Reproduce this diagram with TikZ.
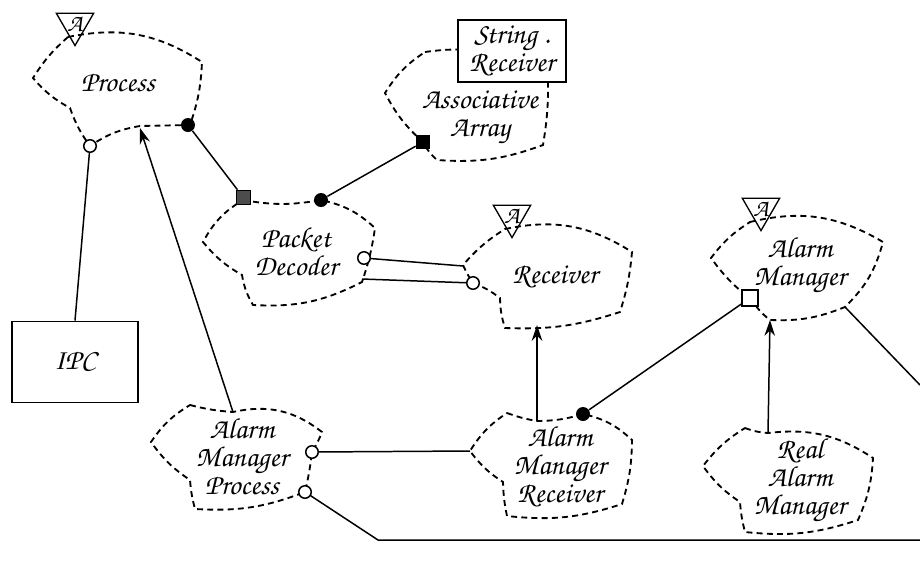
\documentclass[tikz,border=0pt]{standalone}
\usepackage{fontspec}
\newfontfamily\handfont{texgyrechorus-mediumitalic.otf}
\usepackage{tikz}
\usetikzlibrary{arrows.meta,shapes.geometric}

\begin{document}
\begin{tikzpicture}[x=0.02cm,y=-0.02cm,
    classname/.style={font=\handfont\fontsize{16.5}{16}\selectfont,align=center,inner sep=1pt},
    cloudline/.style={dash pattern=on 3.4pt off 2.4pt,line width=1.05pt},
    link/.style={line width=0.85pt},
    inherit/.style={link,-{Stealth[length=9pt,width=6pt]}},
    opendot/.style={circle,draw,line width=0.85pt,fill=white,minimum size=0.25cm,inner sep=0pt},
    fulldot/.style={circle,fill=black,minimum size=0.28cm,inner sep=0pt},
    fullsq/.style={rectangle,fill=black,minimum size=0.28cm,inner sep=0pt},
    hatchsq/.style={rectangle,draw,fill=black!70,minimum size=0.28cm,inner sep=0pt},
    opensq/.style={rectangle,draw,line width=0.85pt,fill=white,minimum size=0.32cm,inner sep=0pt},
    abstract/.style={regular polygon,regular polygon sides=3,shape border rotate=180,draw,line width=0.75pt,
      minimum size=0.86cm,inner sep=0pt,font=\handfont\fontsize{14}{14}\selectfont},
    plainbox/.style={rectangle,draw,line width=1.1pt,fill=white,classname}]
  \useasboundingbox (0,0) rectangle (920,569);

  % class clouds
  \draw[cloudline] (68,37) to[bend left=22] (202,62) to[bend left=8] (190,125) -- (140,126)
    to[bend right=12] (90,146) to[bend left=8] (70,108) to[bend left=10] (33,78) to[bend left=8] (68,37);
  \draw[cloudline] (243,200) to[bend right=10] (321,200) to[bend left=15] (375,228) to[bend left=5] (362,282)
    to[bend left=15] (253,305) to[bend left=10] (242,275) to[bend left=10] (203,242) to[bend left=15] (243,200);
  \draw[cloudline] (425,52) to[bend left=20] (548,78) to[bend left=5] (543,145) to[bend left=12] (437,160)
    to[bend left=10] (423,142) to[bend left=10] (385,93) to[bend left=12] (425,52);
  \draw[cloudline] (505,229) to[bend left=22] (632,252) to[bend left=6] (620,312) to[bend left=10] (505,328)
    to[bend left=8] (500,298) to[bend right=8] (473,283) to[bend left=5] (463,265) to[bend left=8] (505,229);
  \draw[cloudline] (750,222) to[bend left=22] (883,242) to[bend left=15] (845,307) to[bend left=12] (770,320)
    to[bend left=10] (752,300) to[bend left=8] (711,258) to[bend left=10] (750,222);
  \draw[cloudline] (745,428) to[bend right=8] (768,433) to[bend left=20] (873,458) to[bend left=10] (858,520)
    to[bend left=12] (745,532) to[bend left=5] (740,502) to[bend left=10] (703,466) to[bend left=10] (745,428);
  \draw[cloudline] (507,413) to[bend right=5] (537,421) to[bend right=8] (583,414) to[bend left=15] (632,440)
    to[bend left=8] (622,504) to[bend left=12] (507,516) to[bend left=5] (503,482) to[bend left=10] (470,451)
    to[bend left=12] (507,413);
  \draw[cloudline] (190,405) to[bend right=5] (233,412) to[bend left=25] (322,432) to[bend left=5] (312,452)
    to[bend left=3] (305,492) to[bend left=12] (195,509) to[bend left=5] (190,480) to[bend left=10] (151,442)
    to[bend left=12] (190,405);

  \node[classname] (process) at (118,83) {Process};
  \node[classname] (decoder) at (296,252) {Packet\\Decoder};
  \node[classname] (assoc) at (480,117) {Associative\\Array};
  \node[classname] (receiver) at (555,277) {Receiver};
  \node[classname] (amgr) at (800,265) {Alarm\\Manager};
  \node[classname] (realamgr) at (800,480) {Real\\Alarm\\Manager};
  \node[classname] (amrecv) at (560,467) {Alarm\\Manager\\Receiver};
  \node[classname] (amproc) at (242,457) {Alarm\\Manager\\Process};
  \node[plainbox,minimum width=2.52cm,minimum height=1.62cm] (ipc) at (75,362) {IPC};
  \node[plainbox,minimum width=2.16cm,minimum height=1.24cm] (strrecv) at (512,51) {String .\\Receiver};

  \node[abstract] (process-a) at (75,24) {A};
  \node[abstract] (receiver-a) at (512,216) {A};
  \node[abstract] (amgr-a) at (761,209) {A};

  % adornments
  \node[opendot] (process-ipc) at (90,146) {};
  \node[fulldot] (process-has) at (188,125) {};
  \node[hatchsq] (decoder-in) at (243,197) {};
  \node[fulldot] (decoder-has) at (321,200) {};
  \node[fullsq] (assoc-in) at (423,142) {};
  \node[opendot] (decoder-use) at (364,258) {};
  \node[opendot] (receiver-use) at (473,283) {};
  \node[fulldot] (amrecv-has) at (583,414) {};
  \node[opensq] (amgr-in) at (750,298) {};
  \node[opendot] (amproc-use) at (312,452) {};
  \node[opendot] (amproc-out) at (305,492) {};

  \coordinate (process-bot) at (140,128);
  \coordinate (amproc-top) at (233,412);
  \coordinate (receiver-left) at (463,266);
  \coordinate (decoder-right) at (362,279);
  \coordinate (receiver-bot) at (537,325);
  \coordinate (amrecv-top) at (537,421);
  \coordinate (amgr-bot) at (770,320);
  \coordinate (realamgr-top) at (768,433);
  \coordinate (amgr-right) at (845,307);
  \coordinate (amgr-exit) at (920,385);
  \coordinate (amrecv-left) at (470,451);
  \coordinate (bottom-bend) at (378,540);
  \coordinate (bottom-exit) at (920,540);

  \draw[link] (process-ipc) -- (ipc.north);
  \draw[inherit] (amproc-top) -- (process-bot);
  \draw[link] (process-has) -- (decoder-in);
  \draw[link] (decoder-has) -- (assoc-in);
  \draw[link] (decoder-use) -- (receiver-left);
  \draw[link] (decoder-right) -- (receiver-use);
  \draw[inherit] (amrecv-top) -- (receiver-bot);
  \draw[link] (amrecv-has) -- (amgr-in);
  \draw[inherit] (realamgr-top) -- (amgr-bot);
  \draw[link] (amgr-right) -- (amgr-exit);
  \draw[link] (amproc-use) -- (amrecv-left);
  \draw[link] (amproc-out) -- (bottom-bend) -- (bottom-exit);
\end{tikzpicture}
\end{document}
